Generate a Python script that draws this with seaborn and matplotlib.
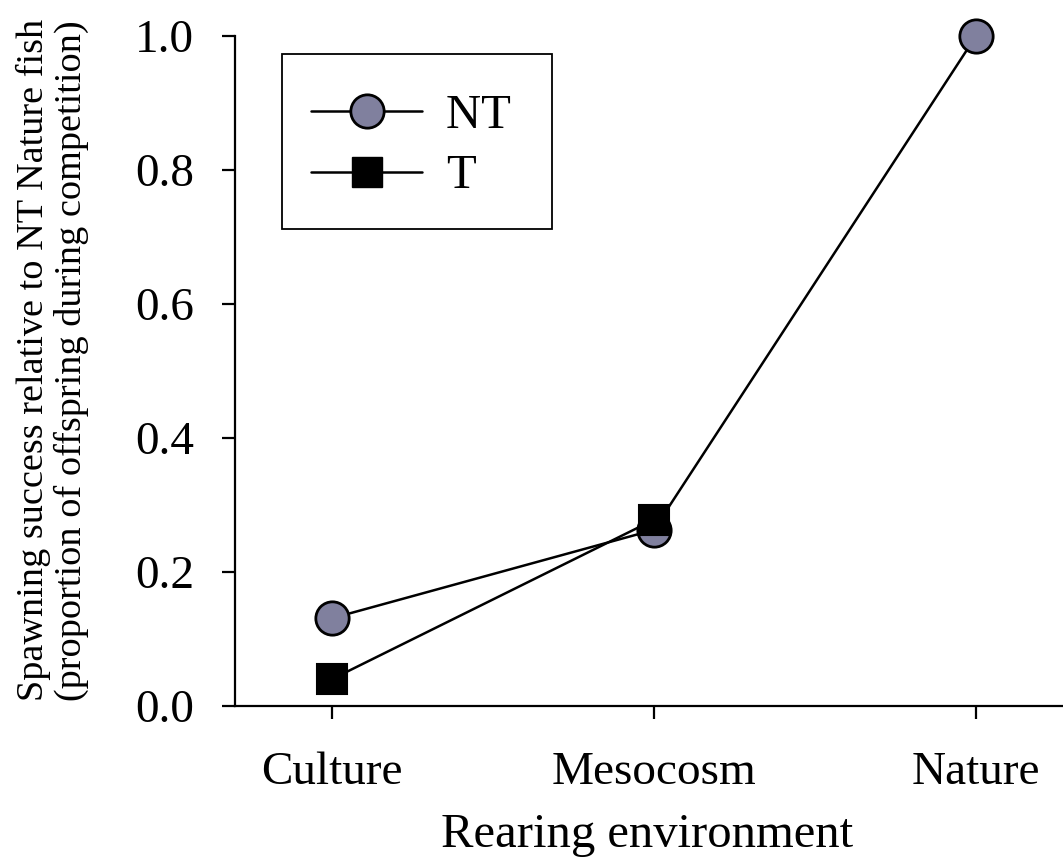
import numpy as np
import pandas as pd
import seaborn as sns
import matplotlib.pyplot as plt
from matplotlib.lines import Line2D
from matplotlib.legend_handler import HandlerLine2D

# values
environments = ['Culture', 'Mesocosm', 'Nature']
nt_success = [0.131, 0.263, 1.0]
t_success = [0.040, 0.278]
y_ticks = [0.0, 0.2, 0.4, 0.6, 0.8, 1.0]

sns.set_style('ticks')
plt.rcParams['font.family'] = ['Liberation Serif', 'DejaVu Serif']
plt.rcParams['text.color'] = 'black'
plt.rcParams['axes.labelcolor'] = 'black'


class LoweredHandler(HandlerLine2D):
    # nudges the legend marker down so it sits level with the label text
    def create_artists(self, legend, orig_handle, xdescent, ydescent,
                       width, height, fontsize, trans):
        return super().create_artists(legend, orig_handle, xdescent,
                                      ydescent + 8.6, width, height,
                                      fontsize, trans)


fig = plt.figure(figsize=(10.63, 8.58), dpi=100)
ax = fig.add_axes([0.221, 0.177, 0.779, 0.781])

nt_fill = '#80809e'

df_nt = pd.DataFrame({'env': environments, 'val': nt_success})
df_t = pd.DataFrame({'env': environments[:len(t_success)], 'val': t_success})

sns.lineplot(data=df_nt, x='env', y='val', ax=ax, color='black', lw=1.8,
             marker='o', markersize=24, markerfacecolor=nt_fill,
             markeredgecolor='black', markeredgewidth=2, clip_on=False,
             zorder=5, legend=False)
sns.lineplot(data=df_t, x='env', y='val', ax=ax, color='black', lw=1.8,
             marker='s', markersize=22, markerfacecolor='black',
             markeredgecolor='black', markeredgewidth=1.5, clip_on=False,
             zorder=6, legend=False)

ax.set_xlim(-0.30, 2.27)
ax.set_ylim(0, 1.0)
ax.set_yticks(y_ticks)
ax.set_yticklabels([f'{v:.1f}' for v in y_ticks])
ax.set_xticks(range(len(environments)))
ax.set_xticklabels(environments)

for side in ['top', 'right']:
    ax.spines[side].set_visible(False)
for side in ['left', 'bottom']:
    ax.spines[side].set_linewidth(1.6)
    ax.spines[side].set_color('black')

ax.tick_params(axis='both', direction='out', length=9.5, width=1.6,
               labelsize=34, colors='black')
ax.tick_params(axis='y', pad=20)
ax.tick_params(axis='x', pad=23)

ax.set_xlabel('Rearing environment', fontsize=35)
ax.set_ylabel('Spawning success relative to NT Nature fish\n'
              '(proportion of offspring during competition)',
              fontsize=27.5, linespacing=1.1)
ax.xaxis.set_label_coords(0.498, -0.159)
ax.yaxis.set_label_coords(-0.176, 0.516)

handles = [
    Line2D([], [], color='black', lw=1.8, marker='o', markersize=24,
           markerfacecolor=nt_fill, markeredgecolor='black', markeredgewidth=2),
    Line2D([], [], color='black', lw=1.8, marker='s', markersize=22,
           markerfacecolor='black', markeredgecolor='black'),
]
leg = ax.legend(handles, ['NT ', 'T'], loc='upper left',
                bbox_to_anchor=(0.057, 0.973), borderaxespad=0,
                fontsize=35, frameon=True, fancybox=False, edgecolor='black',
                handlelength=2.28, handleheight=1.4, handletextpad=0.5,
                borderpad=0.6, labelspacing=0.09,
                handler_map={Line2D: LoweredHandler()})
leg.get_frame().set_linewidth(1.3)
leg.get_frame().set_alpha(1)

fig.savefig('out.png', dpi=100)
